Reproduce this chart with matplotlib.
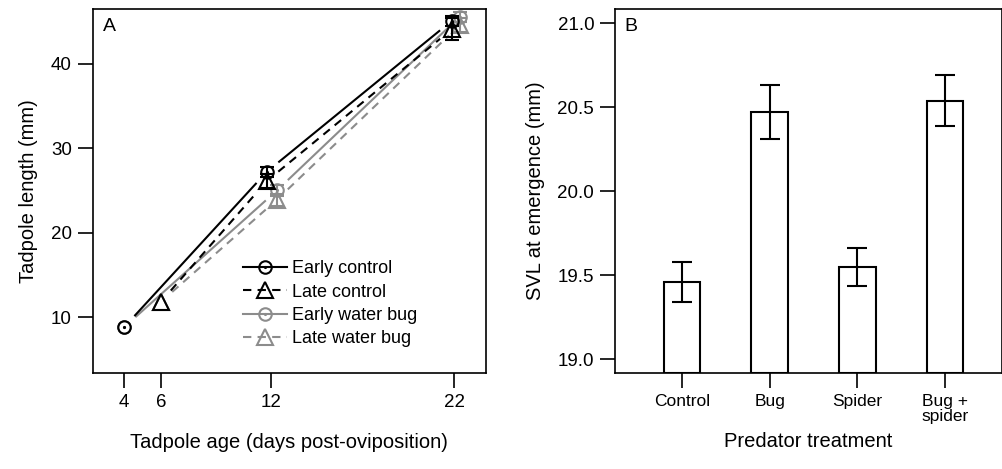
import numpy as np
import matplotlib
matplotlib.use('Agg')
import matplotlib.pyplot as plt
from matplotlib.lines import Line2D
from matplotlib.legend_handler import HandlerTuple

plt.rcParams['font.family'] = ['Liberation Sans', 'DejaVu Sans']

# Panel A: tadpole length over time (mean, se)
early_ages = [4, 12, 22]
late_ages = [6, 12, 22]
# small horizontal dodge so overlapping groups stay visible
control_dodge = [0.0, -0.23, -0.14]
bug_dodge = [0.0, 0.33, 0.3]

early_control = [8.8, 27.2, 45.1]
early_control_se = [0.05, 0.6, 0.6]
late_control = [11.8, 26.1, 44.1]
late_control_se = [0.05, 0.8, 1.3]
early_bug = [8.8, 25.0, 45.6]
early_bug_se = [0.05, 0.7, 0.6]
late_bug = [11.8, 23.9, 44.6]
late_bug_se = [0.05, 0.7, 0.8]

# Panel B: SVL at emergence
treatments = ['Control', 'Bug', 'Spider', 'Bug +\nspider']
svl = [19.46, 20.47, 19.55, 20.54]
svl_se = [0.12, 0.16, 0.115, 0.15]

W, H = 1003, 469
fig = plt.figure(figsize=(W / 100, H / 100), dpi=100)
axA = fig.add_axes([92.7 / W, 1 - 372.7 / H, (486 - 92.7) / W, (372.7 - 9) / H])
axB = fig.add_axes([615 / W, 1 - 372.7 / H, (1002 - 615) / W, (372.7 - 9) / H])

for ax in (axA, axB):
    for s in ax.spines.values():
        s.set_linewidth(1.2)
    ax.tick_params(length=11, width=1.2, labelsize=13.5, pad=4, color='black')

axA.set_xlim(2.28, 23.73)
axA.set_ylim(3.4, 46.5)
axA.set_xticks([4, 6, 12, 22])
axA.set_yticks([10, 20, 30, 40])
axA.set_ylabel('Tadpole length (mm)', fontsize=14.5, labelpad=9)
axA.set_xlabel('Tadpole age (days post-oviposition)', fontsize=14.5, labelpad=16)
axA.text(0.025, 0.975, 'A', transform=axA.transAxes, fontsize=14, va='top', ha='left')

GREY = '0.55'


def gapped_line(ax, x, y, gap_px, **kw):
    # R type="b": line segments stop short of each point
    pts = ax.transData.transform(np.column_stack([x, y]))
    inv = ax.transData.inverted()
    for p0, p1 in zip(pts[:-1], pts[1:]):
        d = p1 - p0
        u = d / np.hypot(*d)
        seg = inv.transform([p0 + u * gap_px, p1 - u * gap_px])
        ax.plot(seg[:, 0], seg[:, 1], solid_capstyle='butt', **kw)


series = [
    (early_ages, bug_dodge, early_bug, early_bug_se, GREY, '-', 'o', 'Early water bug'),
    (late_ages, bug_dodge, late_bug, late_bug_se, GREY, '--', '^', 'Late water bug'),
    (early_ages, control_dodge, early_control, early_control_se, 'black', '-', 'o', 'Early control'),
    (late_ages, control_dodge, late_control, late_control_se, 'black', '--', '^', 'Late control'),
]

handles = {}
for ages, dodge, vals, se, col, ls, mk, name in series:
    x = np.array(ages) + np.array(dodge)
    kw = dict(color=col, lw=1.5)
    if ls == '--':
        kw['dashes'] = (4, 3)
    gapped_line(axA, x, vals, 15, **kw)
    axA.errorbar(x[1:], vals[1:], yerr=se[1:], fmt='none', ecolor=col,
                 elinewidth=1.5, capsize=5, capthick=1.5)
    ms = 9 if mk == 'o' else 11
    axA.plot(x, vals, mk, ms=ms, mfc='none', mec=col, mew=1.5)
    h = Line2D([], [], color=col, lw=1.5, marker=mk, ms=ms,
               mfc='none', mec=col, mew=1.5,
               dashes=kw.get('dashes', (None, None)))
    if mk == 'o':
        axA.plot(x, vals, '.', ms=2.5, color=col)
        h = (h, Line2D([], [], ls='none', marker='.', ms=2.5, color=col))
    handles[name] = h

order = ['Early control', 'Late control', 'Early water bug', 'Late water bug']
axA.legend([handles[n] for n in order], order, loc='lower left',
           bbox_to_anchor=(0.36, 0.045), frameon=False, fontsize=13,
           handlelength=2.4, handletextpad=0.3, labelspacing=0.35,
           borderpad=0, handler_map={tuple: HandlerTuple(ndivide=1)})

# Panel B
pos = np.arange(len(treatments))
ylo, yhi = 18.92, 21.085
axB.bar(pos, np.array(svl) - ylo, bottom=ylo, width=0.418, color='white',
        edgecolor='black', linewidth=1.5)
axB.errorbar(pos, svl, yerr=svl_se, fmt='none', ecolor='black',
             elinewidth=1.5, capsize=7, capthick=1.5)
axB.set_xlim(-0.764, 3.65)
axB.set_ylim(ylo, yhi)
axB.set_yticks([19.0, 19.5, 20.0, 20.5, 21.0])
axB.set_yticklabels(['19.0', '19.5', '20.0', '20.5', '21.0'])
axB.set_xticks(pos)
axB.set_xticklabels(treatments, fontsize=12.5, linespacing=1.05)
axB.set_ylabel('SVL at emergence (mm)', fontsize=14.5, labelpad=9)
axB.set_xlabel('Predator treatment', fontsize=14.5, labelpad=6)
axB.text(0.025, 0.975, 'B', transform=axB.transAxes, fontsize=14, va='top', ha='left')

fig.savefig('out.png', dpi=100)
